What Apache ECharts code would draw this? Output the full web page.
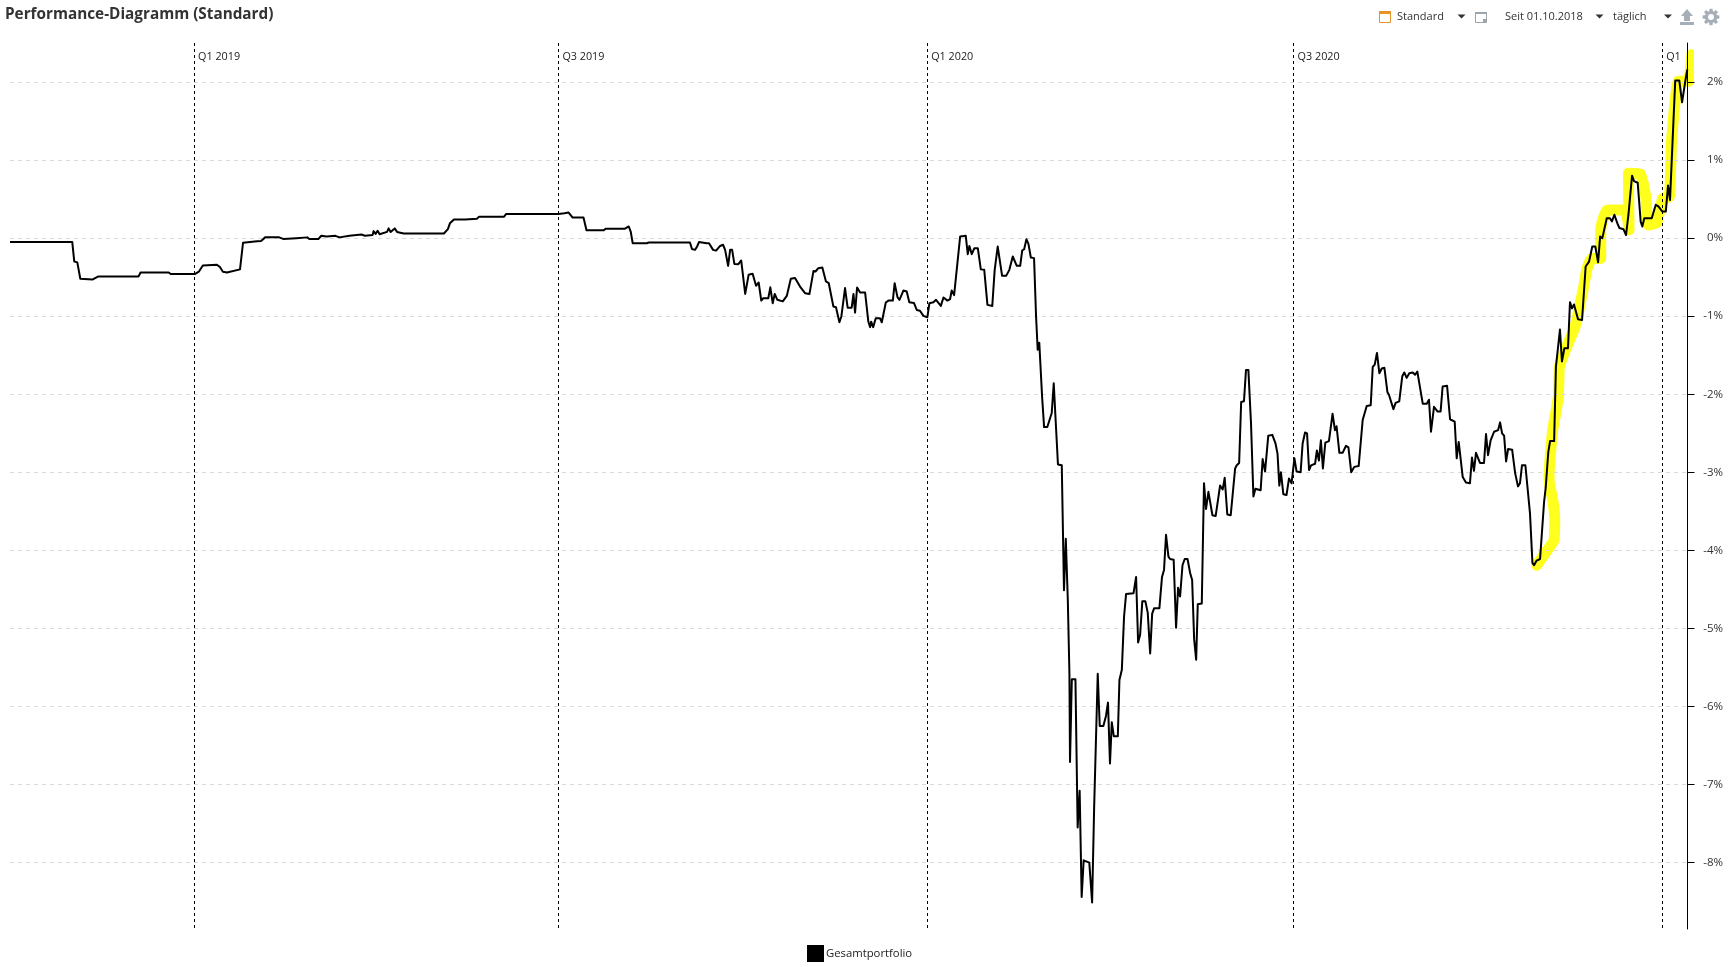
<!DOCTYPE html>
<html><head><meta charset="utf-8">
<style>html,body{margin:0;padding:0;background:#fff}#c{width:1728px;height:967px}</style>
<script src="https://cdn.jsdelivr.net/npm/echarts@6/dist/echarts.min.js"></script>
</head><body><div id="c"></div>
<script>
// Days since 01.10.2018, performance in percent
const flatPhase = [[0,-.05],[31,-.05],[32,-.30],[33.5,-.31],[35,-.52],[41,-.53],[44,-.49],[64,-.49],[65,-.44],[79,-.44],[80,-.46],[92,-.46],[94,-.43],[96,-.35],[103,-.34],[104.5,-.37],[106,-.43],[108,-.44],[114.5,-.40],[116,-.06],[123,-.04],[125,-.035],[127,.01],[134,.01],[136,-.01],[142.6,0],[148,.01],[149,-.01],[153.5,-.01],[155,.03],[157.6,.02],[162,.03],[164,.01],[169,.03],[175,.046],[176.7,.03],[180.5,.04],[181,.09],[182,.055],[183,.095],[184,.05],[187.7,.08],[188.5,.125],[189.5,.08],[191.5,.125],[192.7,.08],[196,.06],[216,.06],[218,.115],[219,.19],[221,.24],[226.5,.24],[227,.25],[232.5,.25],[233.5,.275],[246,.275],[247,.31],[273,.31],[276,.32],[278,.33],[280,.265],[285.5,.265],[287,.10],[295.5,.10],[296.5,.12],[306,.12],[308,.15],[309,.085],[310,-.065],[317,-.065],[318,-.055],[338.5,-.055],[339.5,-.14],[341,-.15],[342,-.11],[343,-.05]];
const wobblePhase = [[346.8,-.065],[348,-.065],[350,-.15],[351.5,-.16],[353.5,-.10],[355,-.085],[356,-.15],[357.5,-.355],[358.5,-.15],[359.5,-.15],[360.6,-.33],[362.6,-.333],[364,-.286],[366,-.714],[367.7,-.47],[369.7,-.457],[371.4,-.61],[372.7,-.568],[374,-.80],[375,-.77],[377.5,-.77],[378.5,-.63],[379.7,-.833],[380.7,-.714],[382,-.79],[384.7,-.81],[386.7,-.74],[388.7,-.52],[390.8,-.51],[393.3,-.62],[395.8,-.705],[398,-.714],[400,-.42],[401,-.427],[402.4,-.385],[404.4,-.376],[406.2,-.555],[407.6,-.577],[409.9,-.876],[411.2,-.885],[412.9,-1.077],[413.9,-1.0],[415.7,-.64],[417,-.89],[419,-.89],[419.9,-.714],[420.7,-.953],[421.7,-.632],[423.2,-.697],[425.7,-.697],[427.3,-1.068],[428.2,-1.14],[428.7,-1.07],[429.7,-1.14],[431,-1.026],[433.1,-1.026],[434,-1.077],[436,-.825],[437.3,-.80],[439.5,-.80],[440.4,-.577],[441.8,-.756],[442.8,-.79],[444.8,-.67],[446.4,-.684],[447.7,-.82],[450,-.83],[451.4,-.92],[453,-.93],[454.7,-.996],[456.7,-1.013],[457.7,-.833],[459.7,-.82],[461,-.79],[461.7,-.77],[463.4,-.868],[464.7,-.76],[466.7,-.80],[468,-.78],[468.8,-.67],[470,-.73],[471.3,-.406],[473,.02],[475.8,.03],[476.8,-.205],[477.6,-.10],[478.8,-.205],[480.1,-.128],[481.8,-.128],[483.3,-.40],[485,-.406],[486.6,-.855],[489,-.87],[490.2,-.406],[491.7,-.107],[493.9,-.483],[495.9,-.483],[497.5,-.406],[499.2,-.235],[501.2,-.355],[502.9,-.355],[503.9,-.158],[504.9,-.14],[506,-.013],[507,-.073],[508.2,-.248],[509.8,-.256]];
const crashPhase = [[510.8,-1.0],[511.6,-1.43],[512.4,-1.34],[512.8,-1.34],[513.8,-2.03],[514.8,-2.42],[516.4,-2.42],[518.6,-2.24],[519.6,-1.86],[520.7,-2.41],[521.7,-2.90],[523.6,-2.91],[524.7,-4.51],[525.6,-3.85],[526.6,-4.63],[527.4,-5.57],[527.7,-6.71],[528.6,-5.65],[530.4,-5.65],[531.5,-7.55],[532.5,-7.08],[533.5,-8.44],[534.5,-7.97],[537.3,-8.0],[538.7,-8.51],[539.7,-7.31],[541.5,-5.58],[542.5,-6.25],[544.3,-6.25],[545.6,-6.12],[546.6,-5.95],[547.6,-6.73],[548.5,-6.2],[549.5,-6.38],[551.5,-6.38],[552.3,-5.66],[553.5,-5.53],[554.6,-4.85],[555.6,-4.56],[559.3,-4.55],[560.6,-4.34],[561.6,-5.18],[562.6,-5.08],[563.7,-4.65],[565.2,-4.65],[566.4,-4.8],[567.6,-5.32],[568.6,-4.81],[569.6,-4.74],[572.2,-4.74],[573.5,-4.34],[574.5,-4.25],[575.5,-3.80],[576.7,-4.08],[577.5,-4.11],[579.3,-4.12],[580.5,-4.99],[581.5,-4.48],[582.5,-4.59],[583.7,-4.19],[584.8,-4.11],[586.2,-4.11],[587.5,-4.29],[588.5,-4.38],[589.5,-5.14],[590.5,-5.4],[591.3,-4.69],[593.3,-4.68]];
const recoveryPhase = [[594.4,-3.14],[595.4,-3.47],[596.6,-3.25],[597.4,-3.25],[598.6,-3.55],[600.2,-3.56],[602.4,-3.17],[603.7,-3.22],[604.7,-3.07],[606,-3.54],[607.7,-3.55],[609.9,-2.95],[610.7,-2.91],[611.9,-2.88],[612.9,-2.1],[614.3,-2.09],[615.3,-1.69],[616.5,-1.69],[617.8,-2.37],[619,-3.31],[620,-3.21],[622.6,-3.23],[623.6,-2.83],[624.8,-2.99],[626.4,-2.53],[628.4,-2.52],[630,-2.63],[631,-2.76],[631.9,-3.17],[632.7,-3.0],[633.9,-3.28],[635.5,-3.29],[636.7,-3.08],[638,-3.14],[639.4,-2.82],[640.5,-2.99],[642.5,-3.0],[643.5,-2.63],[644.7,-2.49],[645.7,-2.5],[646.7,-2.97],[647.7,-2.91],[649.7,-2.89],[650.6,-2.72],[651.6,-2.85],[652.6,-2.59],[653.6,-2.95],[654.8,-2.62],[656.6,-2.6],[658.4,-2.25],[659.6,-2.46],[660.4,-2.41],[661.8,-2.75],[663.4,-2.75],[665.1,-2.66],[666.3,-2.68],[667.7,-3.0],[669.2,-2.93],[671.4,-2.92],[673.4,-2.33],[674.2,-2.31],[675.4,-2.15],[677.4,-2.14],[678.4,-1.65],[679.4,-1.62],[680.5,-1.47],[681.7,-1.73],[682.9,-1.67],[684.2,-1.66],[685.7,-1.97],[686.5,-2.01],[687.3,-2.02],[688.7,-2.19],[689.8,-2.11],[691.6,-2.09],[693.1,-1.77],[694.1,-1.72],[695.3,-1.79],[696.6,-1.73],[698.3,-1.72],[699.5,-1.75],[700.6,-1.71],[701.4,-1.72],[703.3,-2.12],[705.3,-2.12],[706.4,-2.07],[707.4,-2.48],[708.9,-2.16],[710.6,-2.22],[712.2,-2.22],[713.2,-1.9],[715.4,-1.89],[716.9,-2.32],[719.2,-2.35],[720.2,-2.82],[721.2,-2.61],[723.2,-3.06],[724.8,-3.13],[726.8,-3.14],[727.8,-2.81],[728.8,-2.98],[729.8,-2.75],[731.8,-2.88],[733.8,-2.88],[734.8,-2.51],[735.8,-2.78],[737.1,-2.59],[738.8,-2.48],[740.8,-2.46],[741.8,-2.36],[742.8,-2.5],[743.8,-2.53],[744.8,-2.86],[745.8,-2.7],[747.8,-2.71],[749.3,-3.01],[750.7,-3.18],[751.7,-3.14],[752.7,-2.91],[754.4,-2.91],[755.4,-3.18],[756.7,-3.53]];
const rallyPhase = [[757.9,-4.16],[758.7,-4.19],[760,-4.13],[761.7,-4.11],[763.7,-3.38],[764.5,-3.2],[765.8,-2.74],[766.7,-2.6],[768.7,-2.6],[769.6,-1.65],[771.6,-1.17],[772.6,-1.58],[773.8,-1.41],[775.6,-1.41],[776.6,-.82],[777.6,-.9],[778.6,-.85],[780.6,-1.04],[782.6,-1.05],[784.4,-.363],[786.1,-.3],[787.7,-.107],[789.2,-.107],[790.6,-.31],[791.6,.02],[792.7,0],[794.9,.256],[796.5,.256],[797.5,.214],[798.7,.30],[800.2,.19],[801.2,.13],[803.2,.115],[804.5,.04],[805.7,.30],[806.5,.32],[807.5,.80],[808.5,.73],[810.3,.71],[811.8,.21],[812.6,.15],[813.6,.256],[817.3,.256],[819.3,.427],[820.6,.406],[821.4,.40],[822.6,.34],[824.3,.34],[825.4,.675],[826.4,.49],[827.7,1.26],[829,2.02],[831,2.02],[832.4,1.74],[834,2.01],[835,2.16]];
// Hand-drawn yellow highlight over the final rally
const highlightPoints = [[760,-4.19],[765,-4.01],[768.6,-3.87],[769,-3.61],[768,-3.35],[766.3,-3.14],[766.2,-3.01],[767.2,-2.67],[768,-2.46],[770.8,-2.03],[771.3,-1.65],[773.3,-1.5],[776.3,-1.31],[779.1,-1.14],[783.3,-.64],[784.9,-.41],[787.4,-.26],[791.9,-.26],[791.9,.107],[794.9,.355],[804,.363],[806,.107],[805.7,.833],[811.5,.825],[814.3,.534],[815.6,.17],[819.8,.2],[822.8,.513],[826.1,.534],[827.2,1.26],[830.6,2.01],[835.5,2.01],[837.2,2.35]];
const quarterDays = [91.6,273,456.6,639,822.5];
const quarterLabels = ['Q1 2019','Q3 2019','Q1 2020','Q3 2020','Q1'];
const percentTicks = [2,1,0,-1,-2,-3,-4,-5,-6,-7,-8];
const seriesName = 'Gesamtportfolio';
const titleText = 'Performance-Diagramm (Standard)';

const portfolio = [].concat(flatPhase,wobblePhase,crashPhase,recoveryPhase,rallyPhase);
const FONT = '"Open Sans","Noto Sans",sans-serif';
const toolText = (x,t) => ({type:'text',x:x,y:11,style:{text:t,font:'11px '+FONT,fill:'#333'}});
const arrow = x => ({type:'polygon',shape:{points:[[x-4,14.5],[x+4,14.5],[x,18.5]]},style:{fill:'#333'}});
function gearOutline(cx,cy,r1,r2,teeth){
  const pts=[];
  for(let i=0;i<teeth;i++){
    const a=i*2*Math.PI/teeth, w=Math.PI/teeth*0.55;
    [[a-w*1.5,r2],[a-w*0.8,r1],[a+w*0.8,r1],[a+w*1.5,r2]].forEach(p=>pts.push([cx+p[1]*Math.cos(p[0]),cy+p[1]*Math.sin(p[0])]));
  }
  return pts;
}

const chart = echarts.init(document.getElementById('c'),null,{renderer:'canvas'});
chart.setOption({
  animation:false,
  backgroundColor:'#fff',
  title:{text:titleText,left:0,top:0,padding:[7,0,0,5],textStyle:{fontFamily:FONT,fontSize:15.3,fontWeight:'bold',color:'#333'}},
  legend:{show:true,left:807,top:945,itemWidth:17,itemHeight:17,itemGap:0,padding:0,icon:'rect',data:[seriesName],
    itemStyle:{color:'#000'},textStyle:{fontFamily:FONT,fontSize:11.3,color:'#222',padding:[4,0,0,-3]}},
  grid:{left:10,right:40.5,top:43,bottom:38,containLabel:false},
  xAxis:{type:'value',position:'top',min:0,max:835.1,
    axisLine:{show:false},
    axisTick:{show:false,customValues:quarterDays},
    axisLabel:{show:true,inside:true,align:'left',margin:8,padding:[0,0,0,4],color:'#222',fontFamily:FONT,fontSize:10.8,
      customValues:quarterDays,
      hideOverlap:false,
      formatter:(v)=>quarterLabels[quarterDays.indexOf(v)]||''},
    splitLine:{show:true,lineStyle:{color:'#000',width:1,type:[3,3]}},
    z:5},
  yAxis:{type:'value',position:'right',min:-8.85,max:2.5,
    axisLine:{show:true,onZero:false,lineStyle:{color:'#000',width:1}},
    axisTick:{show:true,length:7,lineStyle:{color:'#000'},customValues:percentTicks},
    axisLabel:{show:true,align:'right',margin:35.5,padding:[4,0,0,0],color:'#333',fontFamily:FONT,fontSize:11.5,customValues:percentTicks,formatter:v=>v+'%'},
    splitLine:{show:true,lineStyle:{color:'#d9d9d9',width:1,type:[4,4]}},
    z:5},
  series:[
    {name:'Markierung',type:'line',data:highlightPoints,showSymbol:false,clip:false,z:2,
      lineStyle:{color:'#ffff1e',width:11,join:'round',cap:'round'},smooth:0.15,silent:true},
    {name:seriesName,type:'line',data:portfolio,showSymbol:false,clip:false,z:8,
      lineStyle:{color:'#000',width:2,join:'round'},itemStyle:{color:'#000'},silent:true}
  ],
  graphic:[
    {type:'rect',shape:{x:1379.5,y:11.5,width:11,height:11},style:{fill:'#fff',stroke:'#e8922a',lineWidth:1}},
    {type:'rect',shape:{x:1379,y:11,width:12,height:3},style:{fill:'#e8922a'}},
    toolText(1397,'Standard'), arrow(1461.5),
    {type:'rect',shape:{x:1475.5,y:12.5,width:11,height:10},style:{fill:'#fff',stroke:'#9aa5ad',lineWidth:1}},
    {type:'rect',shape:{x:1475,y:12,width:12,height:2},style:{fill:'#9aa5ad'}},
    {type:'rect',shape:{x:1483,y:19,width:3,height:3},style:{fill:'#9aa5ad'}},
    toolText(1505,'Seit 01.10.2018'), arrow(1599.5),
    toolText(1613,'täglich'), arrow(1668),
    {type:'polygon',shape:{points:[[1687,9],[1693,16],[1690,16],[1690,21],[1684,21],[1684,16],[1681,16]]},style:{fill:'#a6afb7'}},
    {type:'rect',shape:{x:1680,y:22,width:14,height:3},style:{fill:'#a6afb7'}},
    {type:'polygon',shape:{points:gearOutline(1711,17,8.5,6,8)},style:{fill:'#a6afb7'}},
    {type:'circle',shape:{cx:1711,cy:17,r:3},style:{fill:'#fff'}}
  ]
});
</script></body></html>
